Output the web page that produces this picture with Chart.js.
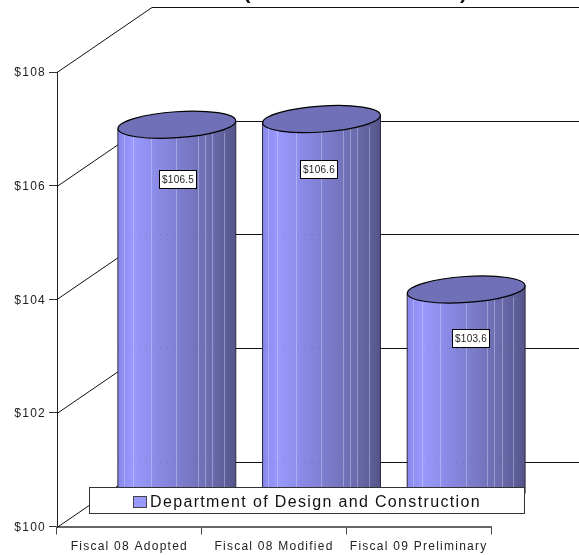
<!DOCTYPE html>
<html>
<head>
<meta charset="utf-8">
<title>Department of Design and Construction</title>
<script src="https://cdn.jsdelivr.net/npm/chart.js@4"></script>
<style>
html, body { margin: 0; padding: 0; background: #fff; overflow: hidden; }
canvas { display: block; }
</style>
</head>
<body>
<canvas id="budgetChart" width="579" height="555"></canvas>
<script>
var categories = ['Fiscal 08 Adopted', 'Fiscal 08 Modified', 'Fiscal 09 Preliminary'];
var budgetValues = [106.5, 106.6, 103.6];
var seriesName = 'Department of Design and Construction';
var chartTitle = '(Dollars in Millions)';
var axisMin = 100;
var axisMax = 108;
var axisStep = 2;

// depth of the fake 3d box, the bars stand half way in
var depthX = 95;
var depthY = -65;
// where the value boxes sit relative to the top of each bar
var labelShift = [[0.5, 54], [-3, 50], [4.5, 49]];
// pale stripes on the cylinder, as a share of its width
var stripes = [0.05, 0.125, 0.28, 0.495, 0.68, 0.74, 0.8, 0.9];
var tilt = -0.068;
var capHeight = 13;
var fontName = '"Liberation Sans", Arial, sans-serif';

function bodyGradient(ctx, left, right) {
    var g = ctx.createLinearGradient(left, 0, right, 0);
    g.addColorStop(0, '#8888ec');
    g.addColorStop(0.13, '#9999ff');
    g.addColorStop(0.5, '#7f7fd2');
    g.addColorStop(0.8, '#6a6aac');
    g.addColorStop(1, '#55558a');
    return g;
}

var cylinderPlugin = {
    id: 'cylinders',
    beforeDraw: function (chart) {
        chart.ctx.letterSpacing = '1.25px';
    },
    beforeDatasetsDraw: function (chart) {
        var ctx = chart.ctx, yScale = chart.scales.y, area = chart.chartArea;
        ctx.save();
        ctx.strokeStyle = '#111';
        ctx.lineWidth = 1;
        yScale.ticks.forEach(function (tick) {
            var y = Math.round(yScale.getPixelForValue(tick.value)) + 0.5;
            ctx.beginPath();
            ctx.moveTo(area.left, y);
            ctx.lineTo(area.left + depthX, y + depthY);
            ctx.lineTo(chart.width, y + depthY);
            ctx.stroke();
        });
        ctx.restore();
    },
    afterDatasetsDraw: function (chart) {
        var ctx = chart.ctx, yScale = chart.scales.y;
        var bars = chart.getDatasetMeta(0).data;
        var dx = depthX / 2, dy = depthY / 2;
        ctx.save();
        bars.forEach(function (bar) {
            var cx = bar.x + dx, top = bar.y + dy, base = bar.base + dy;
            var a = bar.width / 2, left = cx - a, right = cx + a;

            ctx.beginPath();
            ctx.ellipse(cx, top, a, capHeight, tilt, 0, Math.PI, false);
            ctx.ellipse(cx, base, a, capHeight, tilt, Math.PI, 0, true);
            ctx.closePath();
            ctx.fillStyle = bodyGradient(ctx, left, right);
            ctx.fill();

            stripes.forEach(function (s) {
                var x = Math.round(left + s * bar.width) + 0.5;
                ctx.beginPath();
                ctx.moveTo(x, top + 8);
                ctx.lineTo(x, base);
                ctx.strokeStyle = 'rgba(225,225,255,0.38)';
                ctx.lineWidth = 1;
                ctx.stroke();
            });

            // back wall grid shows through a little
            ctx.setLineDash([1, 6]);
            ctx.strokeStyle = 'rgba(50,50,90,0.25)';
            yScale.ticks.forEach(function (tick) {
                var y = Math.round(yScale.getPixelForValue(tick.value) + depthY) + 0.5;
                if (y > top + 12) {
                    ctx.beginPath();
                    ctx.moveTo(left, y);
                    ctx.lineTo(right, y);
                    ctx.stroke();
                }
            });
            ctx.setLineDash([]);

            ctx.strokeStyle = '#26263f';
            ctx.lineWidth = 1;
            ctx.beginPath();
            ctx.moveTo(left, top + a * Math.sin(-tilt));
            ctx.lineTo(left, base);
            ctx.moveTo(right, top - a * Math.sin(-tilt));
            ctx.lineTo(right, base);
            ctx.stroke();

            ctx.beginPath();
            ctx.ellipse(cx, top, a, capHeight, tilt, 0, Math.PI * 2);
            ctx.fillStyle = '#7070b8';
            ctx.fill();
            ctx.strokeStyle = '#000';
            ctx.lineWidth = 1.2;
            ctx.stroke();
        });
        ctx.restore();
    },
    afterDraw: function (chart) {
        var ctx = chart.ctx;
        var bars = chart.getDatasetMeta(0).data;
        var dx = depthX / 2, dy = depthY / 2;
        ctx.save();

        // value boxes
        ctx.textAlign = 'center';
        ctx.textBaseline = 'middle';
        ctx.font = '10px ' + fontName;
        ctx.letterSpacing = '0.2px';
        bars.forEach(function (bar, i) {
            var bx = bar.x + dx + labelShift[i][0];
            var by = bar.y + dy + labelShift[i][1];
            var x = Math.round(bx - 18.5) + 0.5, y = Math.round(by - 9) + 0.5;
            ctx.fillStyle = '#fff';
            ctx.fillRect(x, y, 37, 18);
            ctx.strokeStyle = '#000';
            ctx.lineWidth = 1;
            ctx.strokeRect(x, y, 37, 18);
            ctx.fillStyle = '#222';
            ctx.fillText('$' + budgetValues[i].toFixed(1), x + 18.5, y + 9.5);
        });

        // legend box
        ctx.fillStyle = '#fff';
        ctx.fillRect(89.5, 487.5, 435, 26);
        ctx.strokeStyle = '#333';
        ctx.strokeRect(89.5, 487.5, 435, 26);
        ctx.fillStyle = '#9999ff';
        ctx.fillRect(133.5, 496.5, 13, 11);
        ctx.strokeStyle = '#444';
        ctx.strokeRect(133.5, 496.5, 13, 11);
        ctx.fillStyle = '#111';
        ctx.textAlign = 'left';
        ctx.textBaseline = 'alphabetic';
        ctx.font = '16px ' + fontName;
        ctx.letterSpacing = '1.35px';
        ctx.fillText(seriesName, 150, 507);

        // title runs off the top of the page
        ctx.textAlign = 'center';
        ctx.font = 'bold 21px ' + fontName;
        ctx.letterSpacing = '1.5px';
        ctx.fillText(chartTitle, 356, -1);
        ctx.restore();
    }
};

var ctx = document.getElementById('budgetChart').getContext('2d');
var budgetChart = new Chart(ctx, {
    type: 'bar',
    data: {
        labels: categories,
        datasets: [{
            label: seriesName,
            data: budgetValues,
            base: axisMin,
            backgroundColor: 'rgba(0,0,0,0)',
            borderWidth: 0,
            barPercentage: 0.815,
            categoryPercentage: 1
        }]
    },
    options: {
        responsive: false,
        animation: false,
        layout: { padding: { left: 0, top: 72, right: 88, bottom: 0 } },
        plugins: {
            legend: { display: false },
            tooltip: { enabled: false }
        },
        scales: {
            x: {
                afterFit: function (scale) { scale.height = 28.5; },
                grid: { drawOnChartArea: false, tickLength: 8, color: '#444', offset: true },
                border: { color: '#666', width: 2 },
                ticks: {
                    color: '#222',
                    padding: 5,
                    maxRotation: 0,
                    font: { family: fontName, size: 12 }
                }
            },
            y: {
                min: axisMin,
                max: axisMax,
                afterFit: function (scale) { scale.width = 57; },
                grid: { drawOnChartArea: false, tickLength: 8, color: '#333' },
                border: { color: '#222', width: 1 },
                ticks: {
                    stepSize: axisStep,
                    color: '#222',
                    padding: 3,
                    labelOffset: 1,
                    font: { family: fontName, size: 12 },
                    callback: function (v) { return '$' + v; }
                }
            }
        }
    },
    plugins: [cylinderPlugin]
});
</script>
</body>
</html>
